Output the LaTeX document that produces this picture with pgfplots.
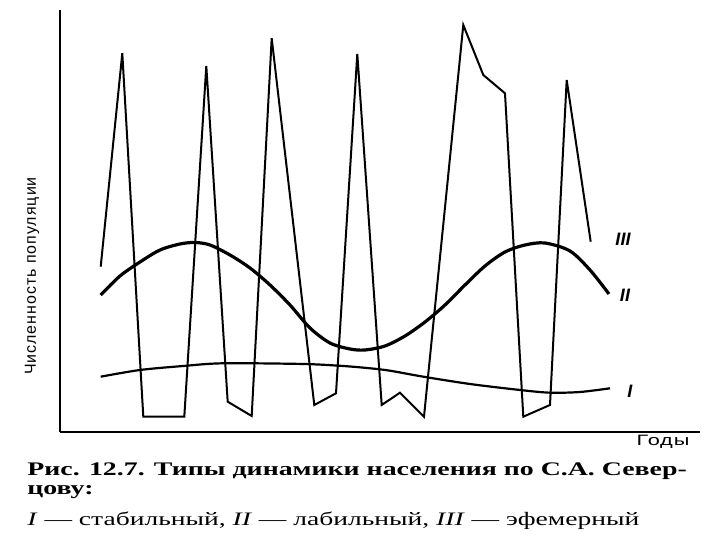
\documentclass[border=0pt]{standalone}
\usepackage{pgfplots}
\pgfplotsset{compat=1.18}
\usepackage{fontspec}
\setmainfont{Liberation Serif}
\setsansfont{Liberation Sans}
\newfontfamily\labfont[LetterSpace=6]{Liberation Sans}
\newfontfamily\godyfont[FakeStretch=1.45,LetterSpace=6]{Liberation Sans}
\newfontfamily\capfont[FakeStretch=1.45]{Liberation Serif}
\begin{document}
\begin{tikzpicture}
\useasboundingbox[fill=white] (0,0) rectangle (360pt,270pt);
\begin{axis}[
  at={(30pt,54pt)}, anchor=south west,
  scale only axis, width=320pt, height=211pt,
  xmin=60, xmax=700, ymin=0, ymax=422,
  axis lines=left, axis line style={-, line width=1pt},
  ticks=none, clip=false,
]
% III - ephemeral
\addplot[black, line width=1pt, line join=miter] coordinates {
(100.7,165.3) (122.3,378.7) (143.3,15.3) (184.3,15.3) (206.3,366)
(227.7,30.3) (251.7,16) (271.7,393.7) (314.3,27) (336,38.7)
(357.3,378) (381.7,27) (400,39.3) (424,15.3) (463.3,407)
(483.3,357) (505,338.7) (523.3,15.3) (550,27) (566.7,352) (590.7,190.3)
};
% II - labile
\addplot[black, line width=1.6pt, smooth] coordinates {
(100.7,137) (120,156) (140,170) (160,182) (180,188) (195,189.5)
(210,187) (230,177) (250,164) (270,147) (290,127) (310,104)
(330,89) (350,83) (365,82) (385,86) (405,96) (425,110) (445,127)
(465,147) (485,166) (505,180) (525,187) (545,189)
(570,181) (590,162) (609,138)
};
% I - stable
\addplot[black, line width=1.1pt, smooth] coordinates {
(100.7,55.3) (140,62) (183.3,66) (223.3,68.7) (303.3,68)
(343,66) (370,63.7) (390,61.3) (423.3,55.3) (470,48)
(520,42) (550,39.3) (580,40) (610,43.7)
};
\node[font=\sffamily\bfseries\itshape\fontsize{9pt}{9pt}\selectfont] at (axis cs:623,193) {III};
\node[font=\sffamily\bfseries\itshape\fontsize{9pt}{9pt}\selectfont] at (axis cs:625,137) {II};
\node[font=\sffamily\bfseries\itshape\fontsize{9pt}{9pt}\selectfont] at (axis cs:630,41) {I};
\node[font=\godyfont\fontsize{7.5pt}{8pt}\selectfont] at (axis cs:663,-10) {Годы};
\node[rotate=90, font=\labfont\fontsize{8pt}{8pt}\selectfont] at (axis cs:32,156) {Численность популяции};
\node[anchor=base west, inner sep=0pt, font=\capfont\fontsize{9.6pt}{12pt}\selectfont\bfseries] at (axis cs:27,-44) {Рис. 12.7. Типы динамики населения по С.А. Север-};
\node[anchor=base west, inner sep=0pt, font=\capfont\fontsize{9.6pt}{12pt}\selectfont\bfseries] at (axis cs:27,-63) {цову:};
\node[anchor=base west, inner sep=0pt, font=\capfont\fontsize{9.5pt}{12pt}\selectfont] at (axis cs:27,-94) {\textit{I} — стабильный, \textit{II} — лабильный, \textit{III} — эфемерный};
\end{axis}
\end{tikzpicture}
\end{document}
